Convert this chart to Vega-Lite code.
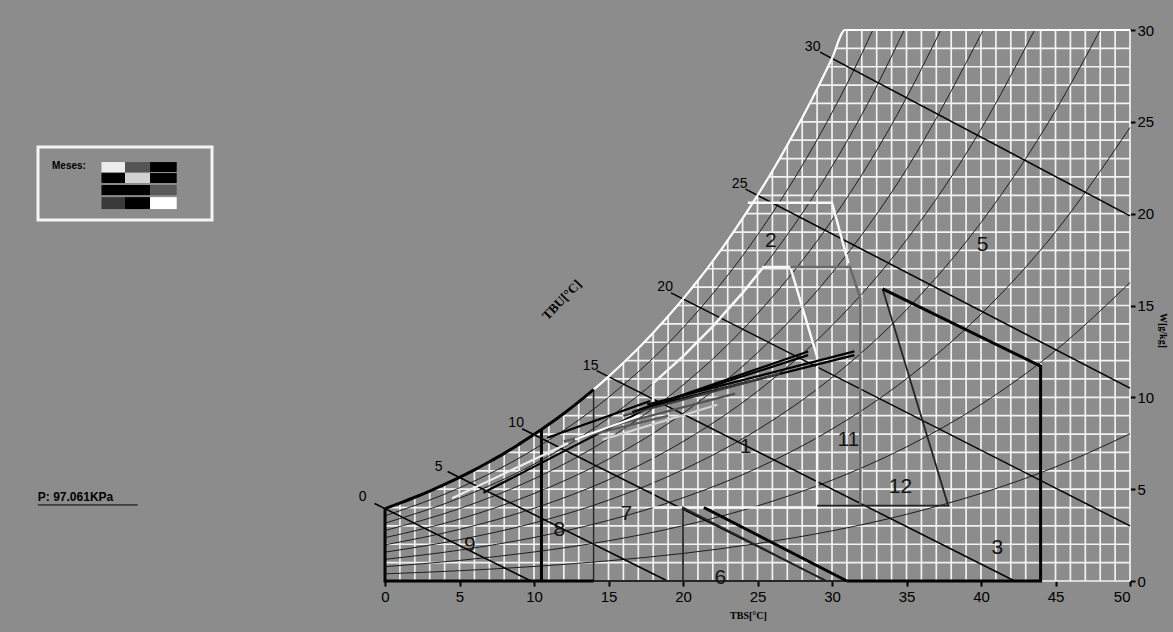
{
  "$schema": "https://vega.github.io/schema/vega-lite/v6.json",
  "width": 1130,
  "height": 551,
  "autosize": {"type": "none"},
  "padding": {"left": 0, "top": 30, "right": 43, "bottom": 51},
  "background": "#8c8c8c",
  "config": {
    "view": {"stroke": null, "fill": "#8c8c8c"},
    "axis": {"domain": false, "grid": false, "tickColor": "#000", "tickSize": 5, "tickWidth": 2, "labelColor": "#000", "labelFont": "Liberation Sans", "labelFontSize": 15, "titleColor": "#000", "titleFont": "Liberation Serif", "titleFontWeight": "bold", "titleFontSize": 10}
  },
  "datasets": {
    "hgrid": [
      {"W": 0, "T0": 0, "T1": 50}, {"W": 1, "T0": 0, "T1": 50}, {"W": 2, "T0": 0, "T1": 50}, {"W": 3, "T0": 0, "T1": 50}, {"W": 4, "T0": 0.2, "T1": 50},
      {"W": 5, "T0": 3.28, "T1": 50}, {"W": 6, "T0": 5.88, "T1": 50}, {"W": 7, "T0": 8.1, "T1": 50}, {"W": 8, "T0": 10.05, "T1": 50}, {"W": 9, "T0": 11.8, "T1": 50},
      {"W": 10, "T0": 13.37, "T1": 50}, {"W": 11, "T0": 14.82, "T1": 50}, {"W": 12, "T0": 16.15, "T1": 50}, {"W": 13, "T0": 17.39, "T1": 50}, {"W": 14, "T0": 18.54, "T1": 50},
      {"W": 15, "T0": 19.62, "T1": 50}, {"W": 16, "T0": 20.64, "T1": 50}, {"W": 17, "T0": 21.6, "T1": 50}, {"W": 18, "T0": 22.51, "T1": 50}, {"W": 19, "T0": 23.38, "T1": 50},
      {"W": 20, "T0": 24.21, "T1": 50}, {"W": 21, "T0": 25.0, "T1": 50}, {"W": 22, "T0": 25.76, "T1": 50}, {"W": 23, "T0": 26.48, "T1": 50}, {"W": 24, "T0": 27.18, "T1": 50},
      {"W": 25, "T0": 27.85, "T1": 50}, {"W": 26, "T0": 28.5, "T1": 50}, {"W": 27, "T0": 29.13, "T1": 50}, {"W": 28, "T0": 29.72, "T1": 50}, {"W": 29, "T0": 30.31, "T1": 50},
      {"W": 30, "T0": 30.88, "T1": 50}
    ],
    "vgrid": [
      {"T": 0, "W0": 0, "W1": 3.94}, {"T": 1, "W0": 0, "W1": 4.24}, {"T": 2, "W0": 0, "W1": 4.56}, {"T": 3, "W0": 0, "W1": 4.9}, {"T": 4, "W0": 0, "W1": 5.26},
      {"T": 5, "W0": 0, "W1": 5.64}, {"T": 6, "W0": 0, "W1": 6.05}, {"T": 7, "W0": 0, "W1": 6.49}, {"T": 8, "W0": 0, "W1": 6.95}, {"T": 9, "W0": 0, "W1": 7.45},
      {"T": 10, "W0": 0, "W1": 7.97}, {"T": 11, "W0": 0, "W1": 8.53}, {"T": 12, "W0": 0, "W1": 9.12}, {"T": 13, "W0": 0, "W1": 9.75}, {"T": 14, "W0": 0, "W1": 10.42},
      {"T": 15, "W0": 0, "W1": 11.13}, {"T": 16, "W0": 0, "W1": 11.88}, {"T": 17, "W0": 0, "W1": 12.67}, {"T": 18, "W0": 0, "W1": 13.52}, {"T": 19, "W0": 0, "W1": 14.41},
      {"T": 20, "W0": 0, "W1": 15.36}, {"T": 21, "W0": 0, "W1": 16.36}, {"T": 22, "W0": 0, "W1": 17.42}, {"T": 23, "W0": 0, "W1": 18.55}, {"T": 24, "W0": 0, "W1": 19.74},
      {"T": 25, "W0": 0, "W1": 21.0}, {"T": 26, "W0": 0, "W1": 22.32}, {"T": 27, "W0": 0, "W1": 23.73}, {"T": 28, "W0": 0, "W1": 25.22}, {"T": 29, "W0": 0, "W1": 26.79},
      {"T": 30, "W0": 0, "W1": 28.46}, {"T": 31, "W0": 0, "W1": 30}, {"T": 32, "W0": 0, "W1": 30}, {"T": 33, "W0": 0, "W1": 30}, {"T": 34, "W0": 0, "W1": 30},
      {"T": 35, "W0": 0, "W1": 30}, {"T": 36, "W0": 0, "W1": 30}, {"T": 37, "W0": 0, "W1": 30}, {"T": 38, "W0": 0, "W1": 30}, {"T": 39, "W0": 0, "W1": 30},
      {"T": 40, "W0": 0, "W1": 30}, {"T": 41, "W0": 0, "W1": 30}, {"T": 42, "W0": 0, "W1": 30}, {"T": 43, "W0": 0, "W1": 30}, {"T": 44, "W0": 0, "W1": 30},
      {"T": 45, "W0": 0, "W1": 30}, {"T": 46, "W0": 0, "W1": 30}, {"T": 47, "W0": 0, "W1": 30}, {"T": 48, "W0": 0, "W1": 30}, {"T": 49, "W0": 0, "W1": 30},
      {"T": 50, "W0": 0, "W1": 30}
    ],
    "sat": [
      {"T": 0, "W": 3.94}, {"T": 1, "W": 4.24}, {"T": 2, "W": 4.56}, {"T": 3, "W": 4.9}, {"T": 4, "W": 5.26},
      {"T": 5, "W": 5.64}, {"T": 6, "W": 6.05}, {"T": 7, "W": 6.49}, {"T": 8, "W": 6.95}, {"T": 9, "W": 7.45},
      {"T": 10, "W": 7.97}, {"T": 11, "W": 8.53}, {"T": 12, "W": 9.12}, {"T": 13, "W": 9.75}, {"T": 14, "W": 10.42},
      {"T": 15, "W": 11.13}, {"T": 16, "W": 11.88}, {"T": 17, "W": 12.67}, {"T": 18, "W": 13.52}, {"T": 19, "W": 14.41},
      {"T": 20, "W": 15.36}, {"T": 21, "W": 16.36}, {"T": 22, "W": 17.42}, {"T": 23, "W": 18.55}, {"T": 24, "W": 19.74},
      {"T": 25, "W": 21.0}, {"T": 26, "W": 22.32}, {"T": 27, "W": 23.73}, {"T": 28, "W": 25.22}, {"T": 29, "W": 26.79},
      {"T": 30, "W": 28.46}, {"T": 30.88, "W": 30}, {"T": 50, "W": 30}
    ],
    "rh": [
      {"rh": 10, "T": 0, "W": 0.39}, {"rh": 10, "T": 5, "W": 0.56}, {"rh": 10, "T": 10, "W": 0.79}, {"rh": 10, "T": 15, "W": 1.1}, {"rh": 10, "T": 20, "W": 1.5}, {"rh": 10, "T": 25, "W": 2.04}, {"rh": 10, "T": 30, "W": 2.73}, {"rh": 10, "T": 35, "W": 3.63}, {"rh": 10, "T": 40, "W": 4.77}, {"rh": 10, "T": 45, "W": 6.21}, {"rh": 10, "T": 50, "W": 8.02},
      {"rh": 20, "T": 0, "W": 0.78}, {"rh": 20, "T": 5, "W": 1.12}, {"rh": 20, "T": 10, "W": 1.58}, {"rh": 20, "T": 15, "W": 2.19}, {"rh": 20, "T": 20, "W": 3.01}, {"rh": 20, "T": 25, "W": 4.09}, {"rh": 20, "T": 30, "W": 5.49}, {"rh": 20, "T": 35, "W": 7.3}, {"rh": 20, "T": 40, "W": 9.61}, {"rh": 20, "T": 45, "W": 12.55}, {"rh": 20, "T": 50, "W": 16.25},
      {"rh": 30, "T": 0, "W": 1.18}, {"rh": 30, "T": 5, "W": 1.68}, {"rh": 30, "T": 10, "W": 2.37}, {"rh": 30, "T": 15, "W": 3.3}, {"rh": 30, "T": 20, "W": 4.53}, {"rh": 30, "T": 25, "W": 6.15}, {"rh": 30, "T": 30, "W": 8.27}, {"rh": 30, "T": 35, "W": 11.01}, {"rh": 30, "T": 40, "W": 14.53}, {"rh": 30, "T": 45, "W": 19.01}, {"rh": 30, "T": 50, "W": 24.69},
      {"rh": 40, "T": 0, "W": 1.57}, {"rh": 40, "T": 5, "W": 2.25}, {"rh": 40, "T": 10, "W": 3.16}, {"rh": 40, "T": 15, "W": 4.4}, {"rh": 40, "T": 20, "W": 6.06}, {"rh": 40, "T": 25, "W": 8.23}, {"rh": 40, "T": 30, "W": 11.08}, {"rh": 40, "T": 35, "W": 14.77}, {"rh": 40, "T": 40, "W": 19.52}, {"rh": 40, "T": 45, "W": 25.61}, {"rh": 40, "T": 48, "W": 30},
      {"rh": 50, "T": 0, "W": 1.97}, {"rh": 50, "T": 5, "W": 2.81}, {"rh": 50, "T": 10, "W": 3.96}, {"rh": 50, "T": 15, "W": 5.51}, {"rh": 50, "T": 20, "W": 7.59}, {"rh": 50, "T": 25, "W": 10.33}, {"rh": 50, "T": 30, "W": 13.91}, {"rh": 50, "T": 35, "W": 18.57}, {"rh": 50, "T": 40, "W": 24.6}, {"rh": 50, "T": 43.6, "W": 30},
      {"rh": 60, "T": 0, "W": 2.36}, {"rh": 60, "T": 5, "W": 3.37}, {"rh": 60, "T": 10, "W": 4.76}, {"rh": 60, "T": 15, "W": 6.63}, {"rh": 60, "T": 20, "W": 9.13}, {"rh": 60, "T": 25, "W": 12.43}, {"rh": 60, "T": 30, "W": 16.77}, {"rh": 60, "T": 35, "W": 22.42}, {"rh": 60, "T": 40.15, "W": 30},
      {"rh": 70, "T": 0, "W": 2.75}, {"rh": 70, "T": 5, "W": 3.94}, {"rh": 70, "T": 10, "W": 5.56}, {"rh": 70, "T": 15, "W": 7.75}, {"rh": 70, "T": 20, "W": 10.67}, {"rh": 70, "T": 25, "W": 14.55}, {"rh": 70, "T": 30, "W": 19.65}, {"rh": 70, "T": 35, "W": 26.32}, {"rh": 70, "T": 37.3, "W": 30},
      {"rh": 80, "T": 0, "W": 3.15}, {"rh": 80, "T": 5, "W": 4.51}, {"rh": 80, "T": 10, "W": 6.36}, {"rh": 80, "T": 15, "W": 8.87}, {"rh": 80, "T": 20, "W": 12.23}, {"rh": 80, "T": 25, "W": 16.69}, {"rh": 80, "T": 30, "W": 22.56}, {"rh": 80, "T": 32, "W": 25.39}, {"rh": 80, "T": 34.85, "W": 30},
      {"rh": 90, "T": 0, "W": 3.55}, {"rh": 90, "T": 5, "W": 5.07}, {"rh": 90, "T": 10, "W": 7.17}, {"rh": 90, "T": 15, "W": 10.0}, {"rh": 90, "T": 20, "W": 13.79}, {"rh": 90, "T": 25, "W": 18.84}, {"rh": 90, "T": 30, "W": 25.5}, {"rh": 90, "T": 32, "W": 28.71}, {"rh": 90, "T": 32.74, "W": 30}
    ],
    "tbu": [
      {"twb": 0, "o": 0, "T": -0.7, "W": 4.22}, {"twb": 0, "o": 1, "T": 9.8, "W": 0},
      {"twb": 5, "o": 0, "T": 4.2, "W": 5.96}, {"twb": 5, "o": 1, "T": 18.96, "W": 0},
      {"twb": 10, "o": 0, "T": 9.2, "W": 8.29}, {"twb": 10, "o": 1, "T": 29.63, "W": 0},
      {"twb": 15, "o": 0, "T": 14.2, "W": 11.45}, {"twb": 15, "o": 1, "T": 42.26, "W": 0},
      {"twb": 20, "o": 0, "T": 19.2, "W": 15.69}, {"twb": 20, "o": 1, "T": 50, "W": 3.0},
      {"twb": 25, "o": 0, "T": 24.2, "W": 21.34}, {"twb": 25, "o": 1, "T": 50, "W": 10.5},
      {"twb": 30, "o": 0, "T": 29.2, "W": 28.8}, {"twb": 30, "o": 1, "T": 50, "W": 19.88}
    ],
    "zonas": [
      {"seg": "conf", "o": 1, "T": 18, "W": 4}, {"seg": "conf", "o": 2, "T": 18, "W": 10.77}, {"seg": "conf", "o": 3, "T": 20, "W": 12.23}, {"seg": "conf", "o": 4, "T": 22, "W": 13.86}, {"seg": "conf", "o": 5, "T": 24, "W": 15.69}, {"seg": "conf", "o": 6, "T": 25.4, "W": 17.1}, {"seg": "conf", "o": 7, "T": 27.2, "W": 17.1}, {"seg": "conf", "o": 8, "T": 29, "W": 12.2}, {"seg": "conf", "o": 9, "T": 29, "W": 4}, {"seg": "conf", "o": 10, "T": 18, "W": 4},
      {"seg": "vent", "o": 1, "T": 24.35, "W": 20.6}, {"seg": "vent", "o": 2, "T": 30, "W": 20.6}, {"seg": "vent", "o": 3, "T": 31.1, "W": 17.3},
      {"seg": "mv", "o": 1, "T": 27.2, "W": 17.1}, {"seg": "mv", "o": 2, "T": 31.2, "W": 17.1}, {"seg": "mv", "o": 3, "T": 31.9, "W": 15.4}, {"seg": "mv", "o": 4, "T": 31.9, "W": 4.1},
      {"seg": "rem", "o": 1, "T": 33.4, "W": 15.9}, {"seg": "rem", "o": 2, "T": 37.8, "W": 4.1}, {"seg": "rem", "o": 3, "T": 29, "W": 4.1},
      {"seg": "re", "o": 1, "T": 33.4, "W": 15.9}, {"seg": "re", "o": 2, "T": 44, "W": 11.7}, {"seg": "re", "o": 3, "T": 44, "W": 0}, {"seg": "re", "o": 4, "T": 31, "W": 0},
      {"seg": "aq", "o": 1, "T": 14, "W": 0}, {"seg": "aq", "o": 2, "T": 0, "W": 0}, {"seg": "aq", "o": 3, "T": 0, "W": 3.94},
      {"seg": "aqs", "o": 1, "T": 10.5, "W": 0}, {"seg": "aqs", "o": 2, "T": 10.5, "W": 8.25},
      {"seg": "mt", "o": 1, "T": 14, "W": 10.42}, {"seg": "mt", "o": 2, "T": 14, "W": 0}, {"seg": "mt", "o": 3, "T": 31, "W": 0},
      {"seg": "um1", "o": 1, "T": 20, "W": 0}, {"seg": "um1", "o": 2, "T": 20, "W": 4}, {"seg": "um1", "o": 3, "T": 29.6, "W": 0},
      {"seg": "um2", "o": 1, "T": 21.4, "W": 4}, {"seg": "um2", "o": 2, "T": 31, "W": 0}
    ],
    "clima": [
      {"m": "Jan", "o": 0, "T": 4.5, "W": 4.5}, {"m": "Jan", "o": 1, "T": 12.3, "W": 7.5},
      {"m": "Fev", "o": 0, "T": 15.0, "W": 8.4}, {"m": "Fev", "o": 1, "T": 23.5, "W": 10.2},
      {"m": "Mar", "o": 0, "T": 17.6, "W": 9.6}, {"m": "Mar", "o": 1, "T": 31.5, "W": 12.5},
      {"m": "Abr", "o": 0, "T": 17.0, "W": 9.3}, {"m": "Abr", "o": 1, "T": 28.4, "W": 12.5},
      {"m": "Mai", "o": 0, "T": 14.6, "W": 7.7}, {"m": "Mai", "o": 1, "T": 22.3, "W": 9.6},
      {"m": "Jun", "o": 0, "T": 6.6, "W": 4.8}, {"m": "Jun", "o": 1, "T": 17.6, "W": 9.4},
      {"m": "Jul", "o": 0, "T": 17.3, "W": 9.4}, {"m": "Jul", "o": 1, "T": 31.5, "W": 12.3},
      {"m": "Ago", "o": 0, "T": 10.9, "W": 7.8}, {"m": "Ago", "o": 1, "T": 17.8, "W": 9.8},
      {"m": "Set", "o": 0, "T": 12.0, "W": 7.6}, {"m": "Set", "o": 1, "T": 19.0, "W": 9.0},
      {"m": "Out", "o": 0, "T": 16.0, "W": 9.0}, {"m": "Out", "o": 1, "T": 26.5, "W": 11.3},
      {"m": "Nov", "o": 0, "T": 16.6, "W": 9.2}, {"m": "Nov", "o": 1, "T": 28.4, "W": 12.3},
      {"m": "Dez", "o": 0, "T": 12.75, "W": 7.7}, {"m": "Dez", "o": 1, "T": 17.1, "W": 9.0}
    ],
    "legenda": [
      {"m": "Jan", "x0": -19.03, "x1": -17.45, "y0": 22.27, "y1": 22.81},
      {"m": "Fev", "x0": -17.45, "x1": -15.77, "y0": 22.27, "y1": 22.81},
      {"m": "Mar", "x0": -15.77, "x1": -13.98, "y0": 22.27, "y1": 22.81},
      {"m": "Abr", "x0": -19.03, "x1": -17.45, "y0": 21.67, "y1": 22.21},
      {"m": "Mai", "x0": -17.45, "x1": -15.77, "y0": 21.67, "y1": 22.21},
      {"m": "Jun", "x0": -15.77, "x1": -13.98, "y0": 21.67, "y1": 22.21},
      {"m": "Jul", "x0": -19.03, "x1": -17.45, "y0": 21.01, "y1": 21.56},
      {"m": "Ago", "x0": -17.45, "x1": -15.77, "y0": 21.01, "y1": 21.56},
      {"m": "Set", "x0": -15.77, "x1": -13.98, "y0": 21.01, "y1": 21.56},
      {"m": "Out", "x0": -19.03, "x1": -17.45, "y0": 20.25, "y1": 20.9},
      {"m": "Nov", "x0": -17.45, "x1": -15.77, "y0": 20.25, "y1": 20.9},
      {"m": "Dez", "x0": -15.77, "x1": -13.98, "y0": 20.25, "y1": 20.9}
    ],
    "caixa": [{"x0": -23.29, "x1": -11.61, "y0": 19.65, "y1": 23.63}],
    "rotulos": [
      {"txt": "0", "kind": "tbu", "T": -1.5, "W": 4.6},
      {"txt": "5", "kind": "tbu", "T": 3.6, "W": 6.2},
      {"txt": "10", "kind": "tbu", "T": 8.8, "W": 8.6},
      {"txt": "15", "kind": "tbu", "T": 13.8, "W": 11.7},
      {"txt": "20", "kind": "tbu", "T": 18.8, "W": 16.0},
      {"txt": "25", "kind": "tbu", "T": 23.8, "W": 21.6},
      {"txt": "30", "kind": "tbu", "T": 28.7, "W": 29.1},
      {"txt": "1", "kind": "zona", "T": 24.2, "W": 7.3},
      {"txt": "2", "kind": "zona", "T": 25.9, "W": 18.5},
      {"txt": "3", "kind": "zona", "T": 41.1, "W": 1.8},
      {"txt": "5", "kind": "zona", "T": 40.1, "W": 18.3},
      {"txt": "6", "kind": "zona", "T": 22.5, "W": 0.15},
      {"txt": "7", "kind": "zona", "T": 16.2, "W": 3.65},
      {"txt": "8", "kind": "zona", "T": 11.7, "W": 2.8},
      {"txt": "9", "kind": "zona", "T": 5.7, "W": 1.96},
      {"txt": "11", "kind": "zona", "T": 31.1, "W": 7.7},
      {"txt": "12", "kind": "zona", "T": 34.6, "W": 5.1}
    ],
    "extra": [
      {"txt": "TBU[°C]", "kind": "tbu_t", "T": 11.88, "W": 15.3},
      {"txt": "P: 97.061KPa", "kind": "p", "T": -23.3, "W": 4.57},
      {"txt": "Meses:", "kind": "meses", "T": -22.35, "W": 22.6}
    ],
    "sublinha": [{"T0": -23.3, "T1": -16.6, "W": 4.14}]
  },
  "layer": [
    {
      "data": {"name": "hgrid"},
      "mark": {"type": "rule", "color": "#f2f2f2", "strokeWidth": 1.7},
      "encoding": {
        "x": {"field": "T0", "type": "quantitative", "scale": {"domain": [-25.84, 50], "nice": false, "zero": false},
              "axis": {"values": [0, 5, 10, 15, 20, 25, 30, 35, 40, 45, 50], "title": "TBS[°C]", "labelPadding": 3, "titleX": 748, "titleY": 29, "titleBaseline": "top"}},
        "x2": {"field": "T1"},
        "y": {"field": "W", "type": "quantitative", "scale": {"domain": [0, 30], "nice": false, "zero": false},
              "axis": {"orient": "right", "values": [0, 5, 10, 15, 20, 25, 30], "title": "W[g/kg]", "labelPadding": 2, "titlePadding": 4, "titleY": 300}}
      }
    },
    {
      "data": {"name": "vgrid"},
      "mark": {"type": "rule", "color": "#f2f2f2", "strokeWidth": 1.7},
      "encoding": {
        "x": {"field": "T", "type": "quantitative"},
        "y": {"field": "W0", "type": "quantitative"},
        "y2": {"field": "W1"}
      }
    },
    {
      "data": {"name": "rh"},
      "mark": {"type": "line", "color": "#1e1e1e", "strokeWidth": 1, "interpolate": "monotone"},
      "encoding": {
        "x": {"field": "T", "type": "quantitative"},
        "y": {"field": "W", "type": "quantitative"},
        "detail": {"field": "rh"},
        "order": {"field": "T"}
      }
    },
    {
      "data": {"name": "tbu"},
      "mark": {"type": "line", "color": "#000", "strokeWidth": 1.5},
      "encoding": {
        "x": {"field": "T", "type": "quantitative"},
        "y": {"field": "W", "type": "quantitative"},
        "detail": {"field": "twb"},
        "order": {"field": "o"}
      }
    },
    {
      "data": {"name": "sat"},
      "mark": {"type": "line", "color": "#ffffff", "strokeWidth": 2.2, "interpolate": "monotone"},
      "encoding": {
        "x": {"field": "T", "type": "quantitative"},
        "y": {"field": "W", "type": "quantitative"},
        "order": {"field": "T"}
      }
    },
    {
      "data": {"name": "zonas"},
      "transform": [{"filter": {"field": "seg", "oneOf": ["conf", "vent"]}}],
      "mark": {"type": "line", "color": "#f8f8f8", "strokeWidth": 2.5},
      "encoding": {
        "x": {"field": "T", "type": "quantitative"},
        "y": {"field": "W", "type": "quantitative"},
        "detail": {"field": "seg"},
        "order": {"field": "o"}
      }
    },
    {
      "data": {"name": "zonas"},
      "transform": [{"filter": {"field": "seg", "oneOf": ["mv"]}}],
      "mark": {"type": "line", "color": "#6a6a6a", "strokeWidth": 2.5},
      "encoding": {
        "x": {"field": "T", "type": "quantitative"},
        "y": {"field": "W", "type": "quantitative"},
        "detail": {"field": "seg"},
        "order": {"field": "o"}
      }
    },
    {
      "data": {"name": "zonas"},
      "transform": [{"filter": {"field": "seg", "oneOf": ["rem", "mt", "um1"]}}],
      "mark": {"type": "line", "color": "#262626", "strokeWidth": 1.8},
      "encoding": {
        "x": {"field": "T", "type": "quantitative"},
        "y": {"field": "W", "type": "quantitative"},
        "detail": {"field": "seg"},
        "order": {"field": "o"}
      }
    },
    {
      "data": {"name": "zonas"},
      "transform": [{"filter": {"field": "seg", "oneOf": ["re", "aq", "aqs", "um2"]}}],
      "mark": {"type": "line", "color": "#000", "strokeWidth": 3},
      "encoding": {
        "x": {"field": "T", "type": "quantitative"},
        "y": {"field": "W", "type": "quantitative"},
        "detail": {"field": "seg"},
        "order": {"field": "o"}
      }
    },
    {
      "data": {"name": "sat"},
      "transform": [{"filter": "datum.T <= 14"}],
      "mark": {"type": "line", "color": "#000", "strokeWidth": 3, "interpolate": "monotone"},
      "encoding": {
        "x": {"field": "T", "type": "quantitative"},
        "y": {"field": "W", "type": "quantitative"},
        "order": {"field": "T"}
      }
    },
    {
      "data": {"name": "clima"},
      "mark": {"type": "line", "strokeWidth": 2.2},
      "encoding": {
        "x": {"field": "T", "type": "quantitative"},
        "y": {"field": "W", "type": "quantitative"},
        "color": {"field": "m", "type": "nominal", "legend": null,
                  "scale": {"domain": ["Jan", "Fev", "Mar", "Abr", "Mai", "Jun", "Jul", "Ago", "Set", "Out", "Nov", "Dez"],
                            "range": ["#ececec", "#555555", "#000000", "#000000", "#d2d2d2", "#000000", "#000000", "#000000", "#5a5a5a", "#3a3a3a", "#000000", "#ffffff"]}},
        "detail": {"field": "m"},
        "order": {"field": "o"}
      }
    },
    {
      "data": {"name": "rotulos"},
      "transform": [{"filter": {"field": "kind", "equal": "tbu"}}],
      "mark": {"type": "text", "font": "Liberation Sans", "fontSize": 14, "color": "#000", "align": "center", "baseline": "middle"},
      "encoding": {
        "x": {"field": "T", "type": "quantitative"},
        "y": {"field": "W", "type": "quantitative"},
        "text": {"field": "txt"}
      }
    },
    {
      "data": {"name": "rotulos"},
      "transform": [{"filter": {"field": "kind", "equal": "zona"}}],
      "mark": {"type": "text", "font": "Liberation Sans", "fontSize": 21, "color": "#141414", "align": "center", "baseline": "middle"},
      "encoding": {
        "x": {"field": "T", "type": "quantitative"},
        "y": {"field": "W", "type": "quantitative"},
        "text": {"field": "txt"}
      }
    },
    {
      "data": {"name": "extra"},
      "transform": [{"filter": {"field": "kind", "equal": "tbu_t"}}],
      "mark": {"type": "text", "font": "Liberation Serif", "fontWeight": "bold", "fontSize": 13, "color": "#000", "angle": 314, "align": "center", "baseline": "middle"},
      "encoding": {
        "x": {"field": "T", "type": "quantitative"},
        "y": {"field": "W", "type": "quantitative"},
        "text": {"field": "txt"}
      }
    },
    {
      "data": {"name": "extra"},
      "transform": [{"filter": {"field": "kind", "equal": "p"}}],
      "mark": {"type": "text", "font": "Liberation Sans", "fontWeight": "bold", "fontSize": 12, "color": "#000", "align": "left", "baseline": "middle"},
      "encoding": {
        "x": {"field": "T", "type": "quantitative"},
        "y": {"field": "W", "type": "quantitative"},
        "text": {"field": "txt"}
      }
    },
    {
      "data": {"name": "sublinha"},
      "mark": {"type": "rule", "color": "#000", "strokeWidth": 1},
      "encoding": {
        "x": {"field": "T0", "type": "quantitative"},
        "x2": {"field": "T1"},
        "y": {"field": "W", "type": "quantitative"}
      }
    },
    {
      "data": {"name": "caixa"},
      "mark": {"type": "rect", "color": "#f4f4f4", "filled": false, "strokeWidth": 3},
      "encoding": {
        "x": {"field": "x0", "type": "quantitative"},
        "x2": {"field": "x1"},
        "y": {"field": "y0", "type": "quantitative"},
        "y2": {"field": "y1"}
      }
    },
    {
      "data": {"name": "legenda"},
      "mark": {"type": "rect"},
      "encoding": {
        "x": {"field": "x0", "type": "quantitative"},
        "x2": {"field": "x1"},
        "y": {"field": "y0", "type": "quantitative"},
        "y2": {"field": "y1"},
        "color": {"field": "m", "type": "nominal", "legend": null}
      }
    },
    {
      "data": {"name": "extra"},
      "transform": [{"filter": {"field": "kind", "equal": "meses"}}],
      "mark": {"type": "text", "font": "Liberation Sans", "fontWeight": "bold", "fontSize": 10, "color": "#000", "align": "left", "baseline": "middle"},
      "encoding": {
        "x": {"field": "T", "type": "quantitative"},
        "y": {"field": "W", "type": "quantitative"},
        "text": {"field": "txt"}
      }
    }
  ]
}
